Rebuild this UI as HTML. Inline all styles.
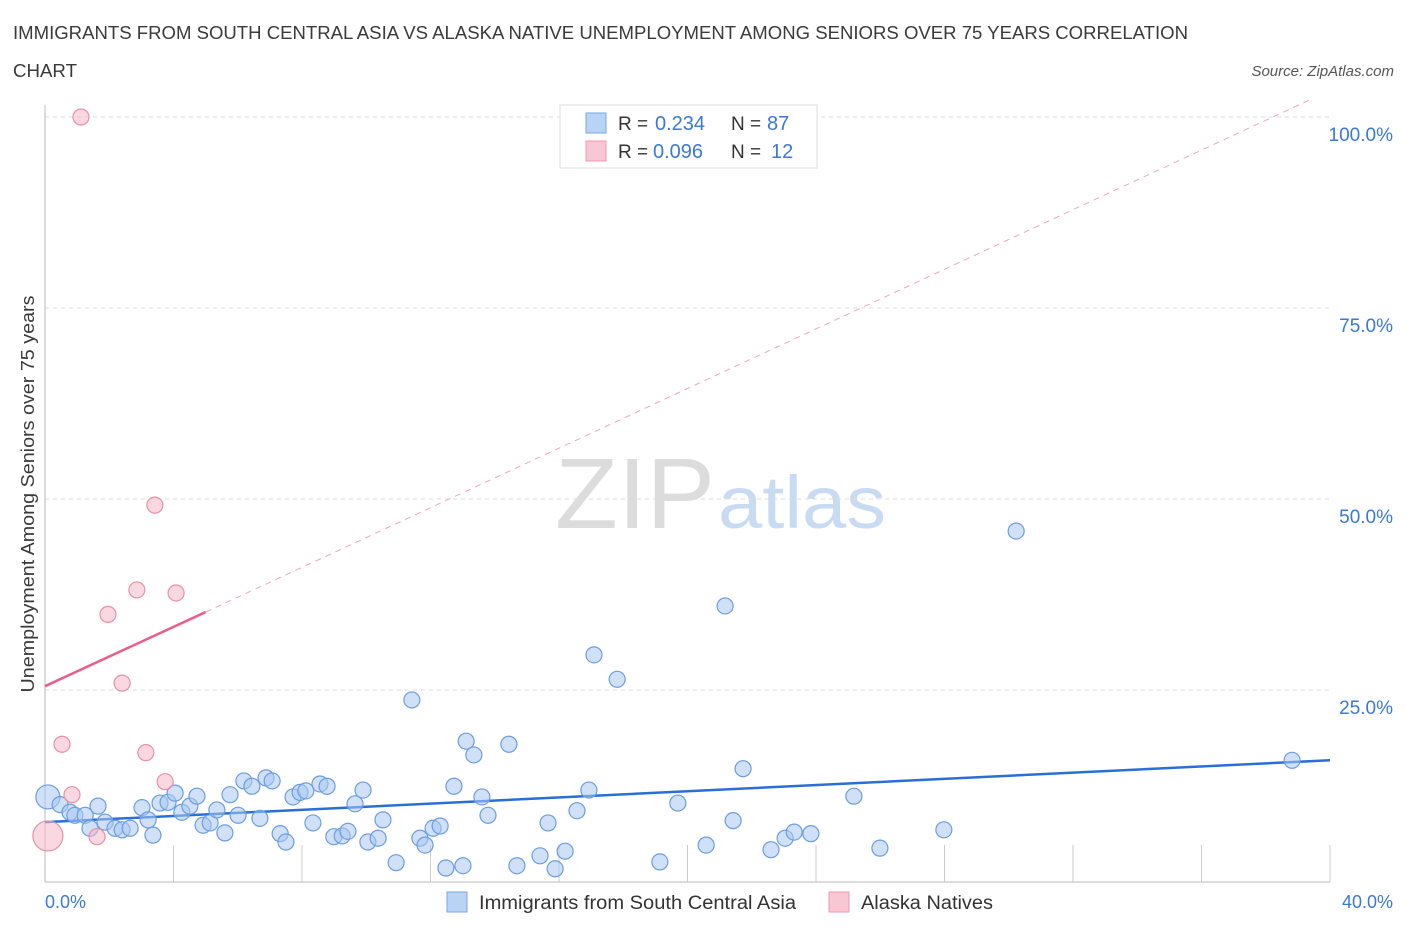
<!DOCTYPE html>
<html><head><meta charset="utf-8"><style>
body{margin:0;background:#fff;font-family:"Liberation Sans",sans-serif}
svg text{font-family:"Liberation Sans",sans-serif}
</style></head><body>
<svg id="chart" width="1406" height="930" viewBox="0 0 1406 930" xmlns="http://www.w3.org/2000/svg">
<text x="13" y="39" font-size="18" fill="#3a3a3a" textLength="1175" lengthAdjust="spacingAndGlyphs">IMMIGRANTS FROM SOUTH CENTRAL ASIA VS ALASKA NATIVE UNEMPLOYMENT AMONG SENIORS OVER 75 YEARS CORRELATION</text>
<text x="13" y="77" font-size="18" fill="#3a3a3a" textLength="64" lengthAdjust="spacingAndGlyphs">CHART</text>
<text x="1394" y="76" font-size="15" fill="#555" text-anchor="end" font-style="italic">Source: ZipAtlas.com</text>
<g>
<text x="555" y="528" font-size="100" fill="#dcdcdc" font-family="Liberation Serif,serif" textLength="160" lengthAdjust="spacingAndGlyphs">ZIP</text>
<text x="718" y="528" font-size="74" fill="#c9dbf2" textLength="168" lengthAdjust="spacingAndGlyphs">atlas</text>
</g>
<g id="grid"></g>
<g id="ticks"></g>
<line x1="45" y1="882" x2="1330" y2="882" stroke="#bbb"/>
<line x1="45" y1="105" x2="45" y2="882" stroke="#bbb"/>
<g id="lines"></g>
<g id="points"></g>
<text transform="translate(34,494) rotate(-90)" font-size="18" fill="#3a3a3a" text-anchor="middle" textLength="397" lengthAdjust="spacingAndGlyphs">Unemployment Among Seniors over 75 years</text>
<text x="45" y="908" font-size="18" fill="#3b78d8">0.0%</text>
<text x="1393" y="908" font-size="18" fill="#3b78d8" text-anchor="end">40.0%</text>
<g>
<rect x="560" y="105" width="257" height="63" fill="#fff" stroke="#ddd"/>
<rect x="586" y="113" width="20" height="20" fill="#b9d3f5" stroke="#7aa6e6"/>
<rect x="586" y="141" width="20" height="20" fill="#f9c7d4" stroke="#ec9ab1"/>
<text x="618" y="130" font-size="19" fill="#333">R =</text>
<text x="655" y="130" font-size="20" fill="#3b78d8">0.234</text>
<text x="731" y="130" font-size="19" fill="#333">N =</text>
<text x="767" y="130" font-size="20" fill="#3b78d8">87</text>
<text x="618" y="158" font-size="19" fill="#333">R =</text>
<text x="653" y="158" font-size="20" fill="#3b78d8">0.096</text>
<text x="731" y="158" font-size="19" fill="#333">N =</text>
<text x="771" y="158" font-size="20" fill="#3b78d8">12</text>
</g>
<g>
<rect x="447" y="892" width="20" height="20" fill="#b9d3f5" stroke="#7aa6e6"/>
<text x="479" y="909" font-size="19" fill="#333" textLength="317" lengthAdjust="spacingAndGlyphs">Immigrants from South Central Asia</text>
<rect x="829" y="892" width="20" height="20" fill="#f9c7d4" stroke="#ec9ab1"/>
<text x="861" y="909" font-size="19" fill="#333" textLength="132" lengthAdjust="spacingAndGlyphs">Alaska Natives</text>
</g>
</svg>
<script>
const yTicks=[25,50,75,100];
const yTickLabels=["25.0%","50.0%","75.0%","100.0%"];
const xTicks=[0,4,8,12,16,20,24,28,32,36,40];
const blueX=[0.09,0.47,0.78,0.93,1.25,1.65,1.40,1.87,2.18,2.40,2.65,3.02,3.21,3.36,3.58,3.83,4.05,4.26,4.51,4.73,4.92,5.14,5.35,5.60,5.76,6.01,6.19,6.44,6.69,6.88,7.07,7.32,7.50,7.72,7.94,8.12,8.34,8.56,8.78,8.99,9.25,9.43,9.65,9.90,10.05,10.37,10.52,10.93,11.42,11.67,11.83,12.08,12.30,12.48,12.73,13.01,13.11,13.35,13.60,13.79,14.44,14.69,15.41,15.66,15.88,16.19,16.56,16.93,17.09,17.81,19.14,19.70,20.58,21.17,21.42,21.73,22.60,23.04,23.32,23.84,25.18,25.99,27.98,30.23,38.82];
const blueY=[11.0,10.0,9.0,8.6,8.6,9.8,6.9,7.7,6.9,6.7,6.9,9.6,8.0,6.0,10.2,10.3,11.5,9.0,9.8,11.1,7.3,7.6,9.3,6.3,11.3,8.6,13.1,12.4,8.2,13.5,13.1,6.2,5.1,11.0,11.6,11.8,7.6,12.7,12.4,5.8,5.9,6.5,10.1,11.9,5.1,5.6,8.0,2.4,23.7,5.6,4.7,6.9,7.2,1.7,12.4,2.0,18.3,16.5,11.0,8.6,17.9,2.0,3.3,7.6,1.6,3.9,9.2,11.9,29.6,26.4,2.5,10.2,4.7,36.0,7.9,14.7,4.1,5.6,6.4,6.2,11.1,4.3,6.7,45.8,15.8];
const pinkX=[1.12,3.42,2.86,4.08,1.96,2.40,0.53,3.14,3.74,0.84,1.62,0.09];
const pinkY=[100,49.2,38.1,37.7,34.9,25.9,17.9,16.8,13.0,11.3,5.8,5.9];
const blueTrend=[7.7,15.8];
const pinkTrend=[25.5,35.2,102.3];
const pinkTrendX=[0,5,39.4];
const NS="http://www.w3.org/2000/svg";
const sx=v=>45+v*32.125, sy=v=>881-v*7.64;
function mk(tag,attrs,parent){const e=document.createElementNS(NS,tag);for(const k in attrs)e.setAttribute(k,attrs[k]);document.getElementById(parent).appendChild(e);return e;}
yTicks.forEach((t,i)=>{
 const l=mk('line',{x1:45,x2:1330,y1:sy(t),y2:sy(t),stroke:'#ddd','stroke-dasharray':'4,4'},'grid');
 
 
 const tx=mk('text',{x:1393,y:sy(t)+24,'font-size':19,fill:'#3b78d8','text-anchor':'end'},'grid');
 tx.textContent=yTickLabels[i];
 
 
});
xTicks.forEach(t=>{
 const l=mk('line',{x1:sx(t),x2:sx(t),y1:845,y2:882,stroke:'#ccc'},'ticks');
 
 
});
blueX.forEach((x,i)=>{
 const c=mk('circle',{cx:sx(x),cy:sy(blueY[i]),r:i===0?12:8,fill:'rgba(169,200,240,0.55)',stroke:'#6b9de0','stroke-width':1.2},'points');
 
 
});
pinkX.forEach((x,i)=>{
 const c=mk('circle',{cx:sx(x),cy:sy(pinkY[i]),r:i===11?15:8,fill:'rgba(245,184,200,0.55)',stroke:'#e890a8','stroke-width':1.2},'points');
 
 
});
const bl=mk('line',{x1:sx(0),y1:sy(blueTrend[0]),x2:sx(40),y2:sy(blueTrend[1]),stroke:'#2a6fd6','stroke-width':2.5},'lines');


const pd=mk('line',{x1:sx(pinkTrendX[1]),y1:sy(pinkTrend[1]),x2:sx(pinkTrendX[2]),y2:sy(pinkTrend[2]),stroke:'#f0a6bc','stroke-width':1,'stroke-dasharray':'6,5'},'lines');


const pl=mk('line',{x1:sx(pinkTrendX[0]),y1:sy(pinkTrend[0]),x2:sx(pinkTrendX[1]),y2:sy(pinkTrend[1]),stroke:'#e8608a','stroke-width':2.5},'lines');


</script>
</body></html>
